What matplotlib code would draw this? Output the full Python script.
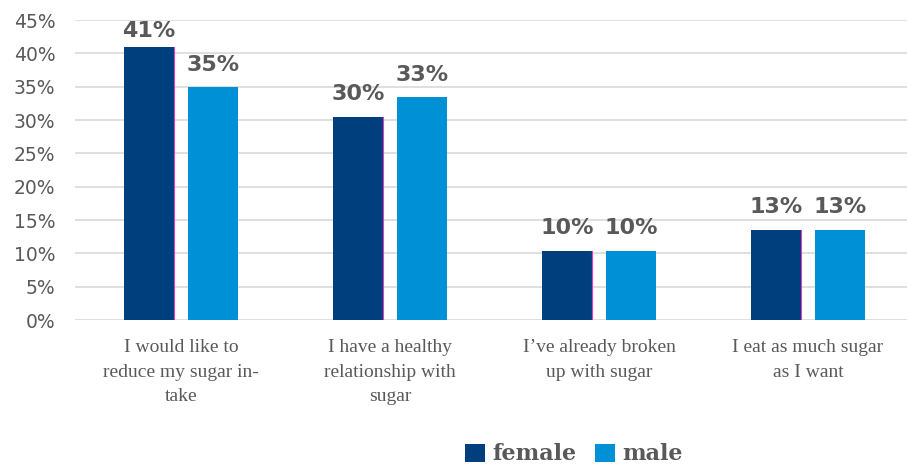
import matplotlib.pyplot as plt
import numpy as np

# data
categories = ['I would like to\nreduce my sugar in-\ntake',
              'I have a healthy\nrelationship with\nsugar',
              'I\u2019ve already broken\nup with sugar',
              'I eat as much sugar\nas I want']
female = [40.9, 30.5, 10.4, 13.5]
male = [34.9, 33.4, 10.4, 13.5]
female_labels = ['41%', '30%', '10%', '13%']
male_labels = ['35%', '33%', '10%', '13%']

c_female = '#003f7d'
c_male = '#0090d6'
grey = '#595959'

fig = plt.figure(figsize=(9.07, 4.69), dpi=100)
ax = fig.add_axes([75 / 907, 1 - 320 / 469, 1 - 75 / 907, 300 / 469])

x = np.arange(len(categories))
w = 0.24
off = 0.153
b1 = ax.bar(x - off, female, w, color=c_female, label='female', zorder=3)
b2 = ax.bar(x + off, male, w, color=c_male, label='male', zorder=3)

# thin pinkish edge on the right of the female bars, as in the original
for b in b1:
    xr = b.get_x() + b.get_width()
    ax.plot([xr, xr], [0, b.get_height()], color='#e23fbf', lw=0.8, zorder=4)

for bars, labs in ((b1, female_labels), (b2, male_labels)):
    for b, t in zip(bars, labs):
        # the top label sits a bit lower, kept inside the plot area
        dy = 1.9 if b.get_height() < 40 else 1.0
        ax.text(b.get_x() + b.get_width() / 2, b.get_height() + dy, t,
                ha='center', va='bottom', fontsize=16, fontweight='bold',
                color=grey, family='DejaVu Sans')

ax.set_ylim(0, 45)
ax.set_xlim(-0.507, 3.474)
ax.set_yticks(range(0, 46, 5))
ax.set_yticklabels([f'{v}%' for v in range(0, 46, 5)], fontsize=13.5, color=grey)
ax.set_xticks(x)
ax.set_xticklabels(categories, fontsize=14, color=grey, family='Liberation Serif',
                   linespacing=1.55, va='top')
ax.tick_params(length=0, axis='both')
ax.tick_params(axis='x', pad=14)
ax.tick_params(axis='y', pad=14)
ax.grid(axis='y', color='#d9d9d9', linewidth=1.2, zorder=0)
for s in ax.spines.values():
    s.set_visible(False)

leg = fig.legend(handles=[b1, b2], loc='lower center', ncol=2,
                 bbox_to_anchor=(574 / 907, -0.035), frameon=False,
                 handlelength=0.9, handleheight=0.9, handletextpad=0.35,
                 columnspacing=0.8,
                 prop={'family': 'DejaVu Serif', 'weight': 'bold', 'size': 16})
for t in leg.get_texts():
    t.set_color(grey)

fig.savefig('out.png', dpi=100)
